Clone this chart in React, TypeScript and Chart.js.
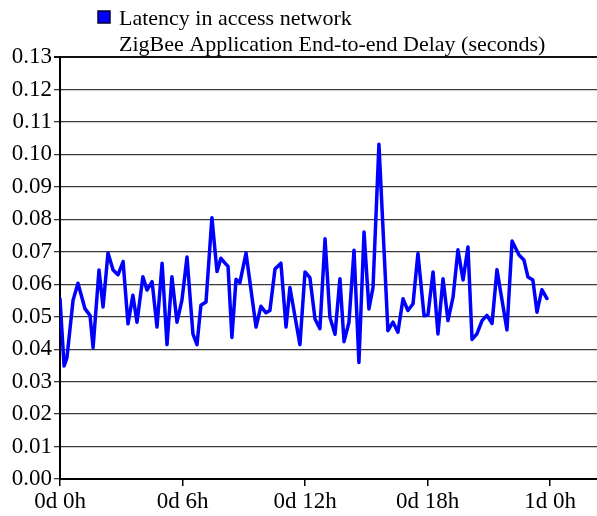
import React, { useEffect, useRef } from "react";
import { Chart, registerables } from "chart.js";

Chart.register(...registerables);

const seriesLabel = "Latency in access network";
const chartTitle = "ZigBee Application End-to-end Delay (seconds)";

// sample times (hours)
const hours = [
  0.0, 0.2, 0.34, 0.64, 0.88, 1.22, 1.47, 1.62, 1.91, 2.11, 2.35, 2.6, 2.84, 3.09, 3.33, 3.57, 3.77,
  4.06, 4.26, 4.51, 4.75, 5.0, 5.24, 5.48, 5.73, 5.97, 6.22, 6.51, 6.71, 6.9, 7.15, 7.44, 7.69, 7.88,
  8.08, 8.23, 8.42, 8.62, 8.81, 9.11, 9.6, 9.84, 10.09, 10.28, 10.53, 10.82, 11.07, 11.26, 11.75,
  12.0, 12.24, 12.49, 12.73, 12.98, 13.22, 13.47, 13.71, 13.91, 14.15, 14.4, 14.64, 14.89, 15.13,
  15.33, 15.62, 16.06, 16.31, 16.55, 16.8, 17.04, 17.29, 17.53, 17.83, 18.02, 18.27, 18.51, 18.76,
  19.0, 19.25, 19.49, 19.74, 19.98, 20.18, 20.42, 20.67, 20.91, 21.16, 21.4, 21.89, 22.14, 22.48,
  22.72, 22.92, 23.16, 23.36, 23.6, 23.85,
];

// end-to-end delay (seconds)
const delay = [
  0.0555, 0.0348, 0.0374, 0.0551, 0.0603, 0.0525, 0.0504, 0.0405, 0.0644, 0.053, 0.0696, 0.0644,
  0.0629, 0.067, 0.0478, 0.0566, 0.0483, 0.0623, 0.0582, 0.0608, 0.0468, 0.0665, 0.0414, 0.0623,
  0.0483, 0.055, 0.0684, 0.0447, 0.0414, 0.0535, 0.0545, 0.0805, 0.0639, 0.068, 0.0665, 0.0655,
  0.0436, 0.0615, 0.0605, 0.0696, 0.0468, 0.0532, 0.0512, 0.0519, 0.0647, 0.0665, 0.0468, 0.059,
  0.0414, 0.0638, 0.062, 0.0493, 0.0463, 0.074, 0.0498, 0.0446, 0.0617, 0.0423, 0.0482, 0.0705,
  0.0359, 0.0761, 0.0524, 0.059, 0.1031, 0.0457, 0.0483, 0.0452, 0.0555, 0.0519, 0.054, 0.0695,
  0.0503, 0.0505, 0.0638, 0.0447, 0.0617, 0.0488, 0.056, 0.0706, 0.0613, 0.0715, 0.043, 0.0447,
  0.0488, 0.0504, 0.0479, 0.0645, 0.0459, 0.0733, 0.069, 0.0675, 0.0622, 0.0613, 0.0514, 0.0583,
  0.0556,
];

const xTickHours = [0, 6, 12, 18, 24];
const xTickLabels = ["0d 0h", "0d 6h", "0d 12h", "0d 18h", "1d 0h"];
const yTickValues = [0, 0.01, 0.02, 0.03, 0.04, 0.05, 0.06, 0.07, 0.08, 0.09, 0.1, 0.11, 0.12, 0.13];

const FONT = "'Liberation Serif', 'Times New Roman', serif";

const headerPlugin = {
  id: "header",
  afterDraw(chart: any) {
    const ctx = chart.ctx;
    ctx.save();
    ctx.fillStyle = "#0000ff";
    ctx.fillRect(98, 11, 12, 12);
    ctx.strokeStyle = "#000033";
    ctx.lineWidth = 1.5;
    ctx.strokeRect(98, 11, 12, 12);
    ctx.fillStyle = "#000";
    ctx.font = `22px ${FONT}`;
    ctx.textBaseline = "alphabetic";
    ctx.textAlign = "left";
    ctx.fillText(seriesLabel, 119, 25);
    ctx.fillText(chartTitle, 119, 51);
    ctx.restore();
  },
};

export default function App() {
  const ref = useRef<HTMLCanvasElement | null>(null);

  useEffect(() => {
    if (!ref.current) return;
    const points = hours.map((h, i) => ({ x: h, y: delay[i] }));
    const chart = new Chart(ref.current, {
      type: "line",
      data: {
        datasets: [
          {
            label: seriesLabel,
            data: points,
            borderColor: "#0000ff",
            backgroundColor: "#0000ff",
            borderWidth: 3.5,
            pointRadius: 0,
            tension: 0,
            borderJoinStyle: "round",
            borderCapStyle: "round",
          },
        ],
      },
      options: {
        animation: false,
        responsive: false,
        maintainAspectRatio: false,
        layout: { padding: { top: 57, right: 0, bottom: 0, left: 0 } },
        plugins: { legend: { display: false }, tooltip: { enabled: false }, title: { display: false } },
        scales: {
          x: {
            type: "linear",
            min: 0,
            max: 26.3,
            afterBuildTicks: (scale: any) => {
              scale.ticks = xTickHours.map((v) => ({ value: v }));
            },
            afterFit: (scale: any) => {
              scale.height = 37;
            },
            ticks: {
              autoSkip: false,
              maxRotation: 0,
              padding: 2,
              color: "#000",
              font: { family: FONT, size: 23 },
              callback: (v: any) => {
                const i = xTickHours.indexOf(Number(v));
                return i >= 0 ? xTickLabels[i] : "";
              },
            },
            grid: { drawOnChartArea: false, drawTicks: true, tickLength: 7, color: "#000", lineWidth: 1.5 },
            border: { color: "#000", width: 2 },
          },
          y: {
            type: "linear",
            min: 0,
            max: 0.13,
            afterBuildTicks: (scale: any) => {
              scale.ticks = yTickValues.map((v) => ({ value: v }));
            },
            afterFit: (scale: any) => {
              scale.width = 60;
            },
            ticks: {
              padding: 2,
              color: "#000",
              font: { family: FONT, size: 23 },
              callback: (v: any) => Number(v).toFixed(2),
            },
            grid: {
              color: (c: any) => (c.tick && c.tick.value === 0.13 ? "#111" : "#3a3a3a"),
              lineWidth: (c: any) => (c.tick && c.tick.value === 0.13 ? 2 : 1.3),
              tickLength: 6,
              drawTicks: true,
            },
            border: { color: "#000", width: 2 },
          },
        },
      },
      plugins: [headerPlugin],
    });
    return () => chart.destroy();
  }, []);

  return (
    <div style={{ position: "fixed", left: 0, top: 0, width: 597, height: 516, background: "#fff" }}>
      <canvas ref={ref} width={597} height={516} style={{ display: "block", width: 597, height: 516 }} />
    </div>
  );
}
